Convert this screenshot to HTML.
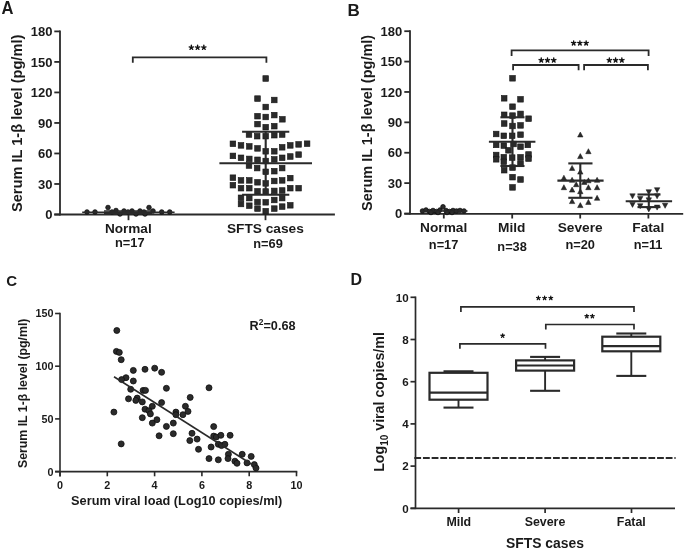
<!DOCTYPE html>
<html><head><meta charset="utf-8"><style>
html,body{margin:0;padding:0;background:#fff;}
svg{display:block;font-family:"Liberation Sans", sans-serif;will-change:transform;}
</style></head><body>
<svg width="685" height="550" viewBox="0 0 685 550">
<rect width="685" height="550" fill="#fff"/>
<text transform="translate(1.6,14.1) scale(0.93,1)" font-size="17.8" font-weight="bold" fill="#1a1a1a">A</text>
<line x1="60.00" y1="30.50" x2="60.00" y2="215.40" stroke="#2a2a2a" stroke-width="1.8" />
<line x1="54.30" y1="214.50" x2="334.90" y2="214.50" stroke="#2a2a2a" stroke-width="1.8" />
<line x1="54.30" y1="214.50" x2="60.00" y2="214.50" stroke="#2a2a2a" stroke-width="1.8" />
<text x="52.40" y="219.10" font-size="13" text-anchor="end" font-weight="bold" fill="#1a1a1a" >0</text>
<line x1="54.30" y1="183.98" x2="60.00" y2="183.98" stroke="#2a2a2a" stroke-width="1.8" />
<text x="52.40" y="188.58" font-size="13" text-anchor="end" font-weight="bold" fill="#1a1a1a" >30</text>
<line x1="54.30" y1="153.47" x2="60.00" y2="153.47" stroke="#2a2a2a" stroke-width="1.8" />
<text x="52.40" y="158.07" font-size="13" text-anchor="end" font-weight="bold" fill="#1a1a1a" >60</text>
<line x1="54.30" y1="122.95" x2="60.00" y2="122.95" stroke="#2a2a2a" stroke-width="1.8" />
<text x="52.40" y="127.55" font-size="13" text-anchor="end" font-weight="bold" fill="#1a1a1a" >90</text>
<line x1="54.30" y1="92.44" x2="60.00" y2="92.44" stroke="#2a2a2a" stroke-width="1.8" />
<text x="52.40" y="97.04" font-size="13" text-anchor="end" font-weight="bold" fill="#1a1a1a" >120</text>
<line x1="54.30" y1="61.92" x2="60.00" y2="61.92" stroke="#2a2a2a" stroke-width="1.8" />
<text x="52.40" y="66.52" font-size="13" text-anchor="end" font-weight="bold" fill="#1a1a1a" >150</text>
<line x1="54.30" y1="31.40" x2="60.00" y2="31.40" stroke="#2a2a2a" stroke-width="1.8" />
<text x="52.40" y="36.00" font-size="13" text-anchor="end" font-weight="bold" fill="#1a1a1a" >180</text>
<text transform="translate(22.40,212.00) rotate(-90)" font-size="14.6" font-weight="bold" fill="#1a1a1a">Serum IL 1-β level (pg/ml)</text>
<line x1="128.50" y1="214.50" x2="128.50" y2="220.20" stroke="#2a2a2a" stroke-width="1.8" />
<line x1="265.50" y1="214.50" x2="265.50" y2="220.20" stroke="#2a2a2a" stroke-width="1.8" />
<text x="128.30" y="233.30" font-size="13.6" text-anchor="middle" font-weight="bold" fill="#1a1a1a" >Normal</text>
<text x="129.80" y="247.30" font-size="12.8" text-anchor="middle" font-weight="bold" fill="#1a1a1a" >n=17</text>
<text x="265.40" y="233.20" font-size="13.7" text-anchor="middle" font-weight="bold" fill="#1a1a1a" >SFTS cases</text>
<text x="268.00" y="247.60" font-size="12.8" text-anchor="middle" font-weight="bold" fill="#1a1a1a" >n=69</text>
<path d="M132.80,62.80 V57.40 H266.40 V62.80" stroke="#2a2a2a" stroke-width="1.8" fill="none"/>
<path d="M191.35,47.55 L191.35,45.30 M191.35,47.55 L193.49,46.85 M191.35,47.55 L192.67,49.37 M191.35,47.55 L190.03,49.37 M191.35,47.55 L189.21,46.85 " stroke="#111" stroke-width="1.4" stroke-linecap="round" fill="none"/>
<path d="M197.60,47.55 L197.60,45.30 M197.60,47.55 L199.74,46.85 M197.60,47.55 L198.92,49.37 M197.60,47.55 L196.28,49.37 M197.60,47.55 L195.46,46.85 " stroke="#111" stroke-width="1.4" stroke-linecap="round" fill="none"/>
<path d="M203.85,47.55 L203.85,45.30 M203.85,47.55 L205.99,46.85 M203.85,47.55 L205.17,49.37 M203.85,47.55 L202.53,49.37 M203.85,47.55 L201.71,46.85 " stroke="#111" stroke-width="1.4" stroke-linecap="round" fill="none"/>
<circle cx="87.00" cy="212.00" r="2.3" fill="#2b2b2b" stroke="#0e0e0e" stroke-width="0.8"/>
<circle cx="95.00" cy="212.00" r="2.3" fill="#2b2b2b" stroke="#0e0e0e" stroke-width="0.8"/>
<circle cx="108.00" cy="207.50" r="2.3" fill="#2b2b2b" stroke="#0e0e0e" stroke-width="0.8"/>
<circle cx="116.00" cy="210.50" r="2.3" fill="#2b2b2b" stroke="#0e0e0e" stroke-width="0.8"/>
<circle cx="120.00" cy="214.00" r="2.3" fill="#2b2b2b" stroke="#0e0e0e" stroke-width="0.8"/>
<circle cx="124.00" cy="211.00" r="2.3" fill="#2b2b2b" stroke="#0e0e0e" stroke-width="0.8"/>
<circle cx="128.00" cy="212.00" r="2.3" fill="#2b2b2b" stroke="#0e0e0e" stroke-width="0.8"/>
<circle cx="132.00" cy="211.00" r="2.3" fill="#2b2b2b" stroke="#0e0e0e" stroke-width="0.8"/>
<circle cx="136.00" cy="214.00" r="2.3" fill="#2b2b2b" stroke="#0e0e0e" stroke-width="0.8"/>
<circle cx="140.00" cy="211.00" r="2.3" fill="#2b2b2b" stroke="#0e0e0e" stroke-width="0.8"/>
<circle cx="144.00" cy="212.00" r="2.3" fill="#2b2b2b" stroke="#0e0e0e" stroke-width="0.8"/>
<circle cx="149.00" cy="207.50" r="2.3" fill="#2b2b2b" stroke="#0e0e0e" stroke-width="0.8"/>
<circle cx="153.00" cy="211.00" r="2.3" fill="#2b2b2b" stroke="#0e0e0e" stroke-width="0.8"/>
<circle cx="161.70" cy="212.00" r="2.3" fill="#2b2b2b" stroke="#0e0e0e" stroke-width="0.8"/>
<circle cx="169.70" cy="212.00" r="2.3" fill="#2b2b2b" stroke="#0e0e0e" stroke-width="0.8"/>
<circle cx="112.00" cy="212.00" r="2.3" fill="#2b2b2b" stroke="#0e0e0e" stroke-width="0.8"/>
<circle cx="145.00" cy="214.00" r="2.3" fill="#2b2b2b" stroke="#0e0e0e" stroke-width="0.8"/>
<line x1="82.20" y1="212.20" x2="174.60" y2="212.20" stroke="#2a2a2a" stroke-width="1.6" />
<line x1="104.00" y1="210.90" x2="152.00" y2="210.90" stroke="#2a2a2a" stroke-width="1.5" />
<line x1="104.00" y1="213.40" x2="152.00" y2="213.40" stroke="#2a2a2a" stroke-width="1.5" />
<rect x="262.90" y="75.70" width="5.6" height="5.6" fill="#2b2b2b" stroke="#151515" stroke-width="0.6"/>
<rect x="254.70" y="95.80" width="5.6" height="5.6" fill="#2b2b2b" stroke="#151515" stroke-width="0.6"/>
<rect x="271.50" y="97.20" width="5.6" height="5.6" fill="#2b2b2b" stroke="#151515" stroke-width="0.6"/>
<rect x="262.90" y="104.20" width="5.6" height="5.6" fill="#2b2b2b" stroke="#151515" stroke-width="0.6"/>
<rect x="254.70" y="113.40" width="5.6" height="5.6" fill="#2b2b2b" stroke="#151515" stroke-width="0.6"/>
<rect x="262.90" y="114.20" width="5.6" height="5.6" fill="#2b2b2b" stroke="#151515" stroke-width="0.6"/>
<rect x="271.50" y="112.30" width="5.6" height="5.6" fill="#2b2b2b" stroke="#151515" stroke-width="0.6"/>
<rect x="279.60" y="116.50" width="5.6" height="5.6" fill="#2b2b2b" stroke="#151515" stroke-width="0.6"/>
<rect x="254.70" y="121.30" width="5.6" height="5.6" fill="#2b2b2b" stroke="#151515" stroke-width="0.6"/>
<rect x="262.90" y="124.40" width="5.6" height="5.6" fill="#2b2b2b" stroke="#151515" stroke-width="0.6"/>
<rect x="271.50" y="123.40" width="5.6" height="5.6" fill="#2b2b2b" stroke="#151515" stroke-width="0.6"/>
<rect x="246.20" y="131.70" width="5.6" height="5.6" fill="#2b2b2b" stroke="#151515" stroke-width="0.6"/>
<rect x="254.40" y="133.40" width="5.6" height="5.6" fill="#2b2b2b" stroke="#151515" stroke-width="0.6"/>
<rect x="262.90" y="133.40" width="5.6" height="5.6" fill="#2b2b2b" stroke="#151515" stroke-width="0.6"/>
<rect x="271.50" y="132.40" width="5.6" height="5.6" fill="#2b2b2b" stroke="#151515" stroke-width="0.6"/>
<rect x="279.40" y="131.70" width="5.6" height="5.6" fill="#2b2b2b" stroke="#151515" stroke-width="0.6"/>
<rect x="230.10" y="141.00" width="5.6" height="5.6" fill="#2b2b2b" stroke="#151515" stroke-width="0.6"/>
<rect x="238.20" y="142.60" width="5.6" height="5.6" fill="#2b2b2b" stroke="#151515" stroke-width="0.6"/>
<rect x="246.50" y="143.60" width="5.6" height="5.6" fill="#2b2b2b" stroke="#151515" stroke-width="0.6"/>
<rect x="254.70" y="145.60" width="5.6" height="5.6" fill="#2b2b2b" stroke="#151515" stroke-width="0.6"/>
<rect x="262.90" y="148.50" width="5.6" height="5.6" fill="#2b2b2b" stroke="#151515" stroke-width="0.6"/>
<rect x="271.50" y="148.50" width="5.6" height="5.6" fill="#2b2b2b" stroke="#151515" stroke-width="0.6"/>
<rect x="279.40" y="144.50" width="5.6" height="5.6" fill="#2b2b2b" stroke="#151515" stroke-width="0.6"/>
<rect x="287.50" y="142.60" width="5.6" height="5.6" fill="#2b2b2b" stroke="#151515" stroke-width="0.6"/>
<rect x="295.80" y="141.60" width="5.6" height="5.6" fill="#2b2b2b" stroke="#151515" stroke-width="0.6"/>
<rect x="304.30" y="140.90" width="5.6" height="5.6" fill="#2b2b2b" stroke="#151515" stroke-width="0.6"/>
<rect x="230.10" y="153.10" width="5.6" height="5.6" fill="#2b2b2b" stroke="#151515" stroke-width="0.6"/>
<rect x="238.20" y="155.00" width="5.6" height="5.6" fill="#2b2b2b" stroke="#151515" stroke-width="0.6"/>
<rect x="246.50" y="156.10" width="5.6" height="5.6" fill="#2b2b2b" stroke="#151515" stroke-width="0.6"/>
<rect x="254.70" y="157.00" width="5.6" height="5.6" fill="#2b2b2b" stroke="#151515" stroke-width="0.6"/>
<rect x="262.90" y="158.20" width="5.6" height="5.6" fill="#2b2b2b" stroke="#151515" stroke-width="0.6"/>
<rect x="271.50" y="156.60" width="5.6" height="5.6" fill="#2b2b2b" stroke="#151515" stroke-width="0.6"/>
<rect x="279.40" y="155.00" width="5.6" height="5.6" fill="#2b2b2b" stroke="#151515" stroke-width="0.6"/>
<rect x="287.50" y="153.70" width="5.6" height="5.6" fill="#2b2b2b" stroke="#151515" stroke-width="0.6"/>
<rect x="295.80" y="151.80" width="5.6" height="5.6" fill="#2b2b2b" stroke="#151515" stroke-width="0.6"/>
<rect x="246.20" y="162.70" width="5.6" height="5.6" fill="#2b2b2b" stroke="#151515" stroke-width="0.6"/>
<rect x="254.40" y="165.30" width="5.6" height="5.6" fill="#2b2b2b" stroke="#151515" stroke-width="0.6"/>
<rect x="262.90" y="169.00" width="5.6" height="5.6" fill="#2b2b2b" stroke="#151515" stroke-width="0.6"/>
<rect x="271.50" y="168.40" width="5.6" height="5.6" fill="#2b2b2b" stroke="#151515" stroke-width="0.6"/>
<rect x="279.40" y="165.30" width="5.6" height="5.6" fill="#2b2b2b" stroke="#151515" stroke-width="0.6"/>
<rect x="230.10" y="174.90" width="5.6" height="5.6" fill="#2b2b2b" stroke="#151515" stroke-width="0.6"/>
<rect x="238.20" y="177.60" width="5.6" height="5.6" fill="#2b2b2b" stroke="#151515" stroke-width="0.6"/>
<rect x="246.50" y="177.60" width="5.6" height="5.6" fill="#2b2b2b" stroke="#151515" stroke-width="0.6"/>
<rect x="254.70" y="179.50" width="5.6" height="5.6" fill="#2b2b2b" stroke="#151515" stroke-width="0.6"/>
<rect x="262.90" y="180.60" width="5.6" height="5.6" fill="#2b2b2b" stroke="#151515" stroke-width="0.6"/>
<rect x="271.50" y="178.20" width="5.6" height="5.6" fill="#2b2b2b" stroke="#151515" stroke-width="0.6"/>
<rect x="279.40" y="177.60" width="5.6" height="5.6" fill="#2b2b2b" stroke="#151515" stroke-width="0.6"/>
<rect x="287.50" y="175.30" width="5.6" height="5.6" fill="#2b2b2b" stroke="#151515" stroke-width="0.6"/>
<rect x="230.10" y="182.40" width="5.6" height="5.6" fill="#2b2b2b" stroke="#151515" stroke-width="0.6"/>
<rect x="238.20" y="185.40" width="5.6" height="5.6" fill="#2b2b2b" stroke="#151515" stroke-width="0.6"/>
<rect x="246.50" y="185.40" width="5.6" height="5.6" fill="#2b2b2b" stroke="#151515" stroke-width="0.6"/>
<rect x="254.70" y="188.50" width="5.6" height="5.6" fill="#2b2b2b" stroke="#151515" stroke-width="0.6"/>
<rect x="262.90" y="188.70" width="5.6" height="5.6" fill="#2b2b2b" stroke="#151515" stroke-width="0.6"/>
<rect x="271.50" y="188.10" width="5.6" height="5.6" fill="#2b2b2b" stroke="#151515" stroke-width="0.6"/>
<rect x="279.40" y="187.70" width="5.6" height="5.6" fill="#2b2b2b" stroke="#151515" stroke-width="0.6"/>
<rect x="287.50" y="185.40" width="5.6" height="5.6" fill="#2b2b2b" stroke="#151515" stroke-width="0.6"/>
<rect x="295.80" y="185.40" width="5.6" height="5.6" fill="#2b2b2b" stroke="#151515" stroke-width="0.6"/>
<rect x="238.20" y="195.00" width="5.6" height="5.6" fill="#2b2b2b" stroke="#151515" stroke-width="0.6"/>
<rect x="238.20" y="201.20" width="5.6" height="5.6" fill="#2b2b2b" stroke="#151515" stroke-width="0.6"/>
<rect x="246.50" y="195.30" width="5.6" height="5.6" fill="#2b2b2b" stroke="#151515" stroke-width="0.6"/>
<rect x="246.50" y="202.90" width="5.6" height="5.6" fill="#2b2b2b" stroke="#151515" stroke-width="0.6"/>
<rect x="254.70" y="199.20" width="5.6" height="5.6" fill="#2b2b2b" stroke="#151515" stroke-width="0.6"/>
<rect x="254.70" y="205.80" width="5.6" height="5.6" fill="#2b2b2b" stroke="#151515" stroke-width="0.6"/>
<rect x="262.90" y="199.50" width="5.6" height="5.6" fill="#2b2b2b" stroke="#151515" stroke-width="0.6"/>
<rect x="262.90" y="208.40" width="5.6" height="5.6" fill="#2b2b2b" stroke="#151515" stroke-width="0.6"/>
<rect x="271.50" y="197.20" width="5.6" height="5.6" fill="#2b2b2b" stroke="#151515" stroke-width="0.6"/>
<rect x="271.50" y="205.80" width="5.6" height="5.6" fill="#2b2b2b" stroke="#151515" stroke-width="0.6"/>
<rect x="279.40" y="195.30" width="5.6" height="5.6" fill="#2b2b2b" stroke="#151515" stroke-width="0.6"/>
<rect x="279.40" y="203.80" width="5.6" height="5.6" fill="#2b2b2b" stroke="#151515" stroke-width="0.6"/>
<rect x="287.50" y="202.50" width="5.6" height="5.6" fill="#2b2b2b" stroke="#151515" stroke-width="0.6"/>
<line x1="219.40" y1="163.20" x2="312.00" y2="163.20" stroke="#2a2a2a" stroke-width="2.1" />
<line x1="242.10" y1="131.70" x2="289.30" y2="131.70" stroke="#2a2a2a" stroke-width="2.1" />
<line x1="242.10" y1="194.80" x2="289.30" y2="194.80" stroke="#2a2a2a" stroke-width="2.1" />
<line x1="265.70" y1="131.70" x2="265.70" y2="194.80" stroke="#2a2a2a" stroke-width="2.1" />
<text x="347.40" y="15.60" font-size="17" text-anchor="start" font-weight="bold" fill="#1a1a1a" >B</text>
<line x1="410.00" y1="30.30" x2="410.00" y2="214.40" stroke="#2a2a2a" stroke-width="1.8" />
<line x1="404.30" y1="213.80" x2="683.20" y2="213.80" stroke="#2a2a2a" stroke-width="1.8" />
<line x1="404.30" y1="213.50" x2="410.00" y2="213.50" stroke="#2a2a2a" stroke-width="1.8" />
<text x="402.30" y="218.10" font-size="13" text-anchor="end" font-weight="bold" fill="#1a1a1a" >0</text>
<line x1="404.30" y1="183.12" x2="410.00" y2="183.12" stroke="#2a2a2a" stroke-width="1.8" />
<text x="402.30" y="187.72" font-size="13" text-anchor="end" font-weight="bold" fill="#1a1a1a" >30</text>
<line x1="404.30" y1="152.73" x2="410.00" y2="152.73" stroke="#2a2a2a" stroke-width="1.8" />
<text x="402.30" y="157.33" font-size="13" text-anchor="end" font-weight="bold" fill="#1a1a1a" >60</text>
<line x1="404.30" y1="122.35" x2="410.00" y2="122.35" stroke="#2a2a2a" stroke-width="1.8" />
<text x="402.30" y="126.95" font-size="13" text-anchor="end" font-weight="bold" fill="#1a1a1a" >90</text>
<line x1="404.30" y1="91.96" x2="410.00" y2="91.96" stroke="#2a2a2a" stroke-width="1.8" />
<text x="402.30" y="96.56" font-size="13" text-anchor="end" font-weight="bold" fill="#1a1a1a" >120</text>
<line x1="404.30" y1="61.58" x2="410.00" y2="61.58" stroke="#2a2a2a" stroke-width="1.8" />
<text x="402.30" y="66.18" font-size="13" text-anchor="end" font-weight="bold" fill="#1a1a1a" >150</text>
<line x1="404.30" y1="31.20" x2="410.00" y2="31.20" stroke="#2a2a2a" stroke-width="1.8" />
<text x="402.30" y="35.80" font-size="13" text-anchor="end" font-weight="bold" fill="#1a1a1a" >180</text>
<text transform="translate(372.40,211.00) rotate(-90)" font-size="14.5" font-weight="bold" fill="#1a1a1a">Serum IL 1-β level (pg/ml)</text>
<line x1="443.80" y1="213.80" x2="443.80" y2="218.50" stroke="#2a2a2a" stroke-width="1.8" />
<line x1="512.20" y1="213.80" x2="512.20" y2="218.50" stroke="#2a2a2a" stroke-width="1.8" />
<line x1="580.20" y1="213.80" x2="580.20" y2="218.50" stroke="#2a2a2a" stroke-width="1.8" />
<line x1="648.40" y1="213.80" x2="648.40" y2="218.50" stroke="#2a2a2a" stroke-width="1.8" />
<text x="443.70" y="232.20" font-size="13.7" text-anchor="middle" font-weight="bold" fill="#1a1a1a" >Normal</text>
<text x="511.70" y="232.20" font-size="13.7" text-anchor="middle" font-weight="bold" fill="#1a1a1a" >Mild</text>
<text x="580.20" y="232.20" font-size="13.7" text-anchor="middle" font-weight="bold" fill="#1a1a1a" >Severe</text>
<text x="648.30" y="232.20" font-size="13.7" text-anchor="middle" font-weight="bold" fill="#1a1a1a" >Fatal</text>
<text x="443.60" y="249.00" font-size="12.8" text-anchor="middle" font-weight="bold" fill="#1a1a1a" >n=17</text>
<text x="512.10" y="250.50" font-size="12.8" text-anchor="middle" font-weight="bold" fill="#1a1a1a" >n=38</text>
<text x="580.20" y="249.00" font-size="12.8" text-anchor="middle" font-weight="bold" fill="#1a1a1a" >n=20</text>
<text x="648.10" y="249.00" font-size="12.8" text-anchor="middle" font-weight="bold" fill="#1a1a1a" >n=11</text>
<path d="M511.60,55.90 V50.40 H648.60 V55.90" stroke="#2a2a2a" stroke-width="1.8" fill="none"/>
<path d="M513.10,70.20 V65.00 H578.60 V70.20" stroke="#2a2a2a" stroke-width="1.8" fill="none"/>
<path d="M584.10,70.20 V65.00 H647.90 V70.20" stroke="#2a2a2a" stroke-width="1.8" fill="none"/>
<path d="M573.65,43.15 L573.65,40.90 M573.65,43.15 L575.79,42.45 M573.65,43.15 L574.97,44.97 M573.65,43.15 L572.33,44.97 M573.65,43.15 L571.51,42.45 " stroke="#111" stroke-width="1.4" stroke-linecap="round" fill="none"/>
<path d="M579.90,43.15 L579.90,40.90 M579.90,43.15 L582.04,42.45 M579.90,43.15 L581.22,44.97 M579.90,43.15 L578.58,44.97 M579.90,43.15 L577.76,42.45 " stroke="#111" stroke-width="1.4" stroke-linecap="round" fill="none"/>
<path d="M586.15,43.15 L586.15,40.90 M586.15,43.15 L588.29,42.45 M586.15,43.15 L587.47,44.97 M586.15,43.15 L584.83,44.97 M586.15,43.15 L584.01,42.45 " stroke="#111" stroke-width="1.4" stroke-linecap="round" fill="none"/>
<path d="M541.25,60.25 L541.25,58.00 M541.25,60.25 L543.39,59.55 M541.25,60.25 L542.57,62.07 M541.25,60.25 L539.93,62.07 M541.25,60.25 L539.11,59.55 " stroke="#111" stroke-width="1.4" stroke-linecap="round" fill="none"/>
<path d="M547.50,60.25 L547.50,58.00 M547.50,60.25 L549.64,59.55 M547.50,60.25 L548.82,62.07 M547.50,60.25 L546.18,62.07 M547.50,60.25 L545.36,59.55 " stroke="#111" stroke-width="1.4" stroke-linecap="round" fill="none"/>
<path d="M553.75,60.25 L553.75,58.00 M553.75,60.25 L555.89,59.55 M553.75,60.25 L555.07,62.07 M553.75,60.25 L552.43,62.07 M553.75,60.25 L551.61,59.55 " stroke="#111" stroke-width="1.4" stroke-linecap="round" fill="none"/>
<path d="M609.35,60.25 L609.35,58.00 M609.35,60.25 L611.49,59.55 M609.35,60.25 L610.67,62.07 M609.35,60.25 L608.03,62.07 M609.35,60.25 L607.21,59.55 " stroke="#111" stroke-width="1.4" stroke-linecap="round" fill="none"/>
<path d="M615.60,60.25 L615.60,58.00 M615.60,60.25 L617.74,59.55 M615.60,60.25 L616.92,62.07 M615.60,60.25 L614.28,62.07 M615.60,60.25 L613.46,59.55 " stroke="#111" stroke-width="1.4" stroke-linecap="round" fill="none"/>
<path d="M621.85,60.25 L621.85,58.00 M621.85,60.25 L623.99,59.55 M621.85,60.25 L623.17,62.07 M621.85,60.25 L620.53,62.07 M621.85,60.25 L619.71,59.55 " stroke="#111" stroke-width="1.4" stroke-linecap="round" fill="none"/>
<circle cx="422.50" cy="211.00" r="2.3" fill="#2b2b2b" stroke="#0e0e0e" stroke-width="0.8"/>
<circle cx="426.00" cy="210.00" r="2.3" fill="#2b2b2b" stroke="#0e0e0e" stroke-width="0.8"/>
<circle cx="429.50" cy="211.50" r="2.3" fill="#2b2b2b" stroke="#0e0e0e" stroke-width="0.8"/>
<circle cx="433.00" cy="210.50" r="2.3" fill="#2b2b2b" stroke="#0e0e0e" stroke-width="0.8"/>
<circle cx="436.50" cy="211.50" r="2.3" fill="#2b2b2b" stroke="#0e0e0e" stroke-width="0.8"/>
<circle cx="440.00" cy="210.00" r="2.3" fill="#2b2b2b" stroke="#0e0e0e" stroke-width="0.8"/>
<circle cx="443.00" cy="206.80" r="2.3" fill="#2b2b2b" stroke="#0e0e0e" stroke-width="0.8"/>
<circle cx="446.00" cy="210.50" r="2.3" fill="#2b2b2b" stroke="#0e0e0e" stroke-width="0.8"/>
<circle cx="449.50" cy="211.50" r="2.3" fill="#2b2b2b" stroke="#0e0e0e" stroke-width="0.8"/>
<circle cx="453.00" cy="210.50" r="2.3" fill="#2b2b2b" stroke="#0e0e0e" stroke-width="0.8"/>
<circle cx="456.50" cy="211.00" r="2.3" fill="#2b2b2b" stroke="#0e0e0e" stroke-width="0.8"/>
<circle cx="460.00" cy="210.50" r="2.3" fill="#2b2b2b" stroke="#0e0e0e" stroke-width="0.8"/>
<circle cx="464.00" cy="211.00" r="2.3" fill="#2b2b2b" stroke="#0e0e0e" stroke-width="0.8"/>
<circle cx="431.00" cy="212.50" r="2.3" fill="#2b2b2b" stroke="#0e0e0e" stroke-width="0.8"/>
<circle cx="438.00" cy="212.50" r="2.3" fill="#2b2b2b" stroke="#0e0e0e" stroke-width="0.8"/>
<circle cx="447.00" cy="212.50" r="2.3" fill="#2b2b2b" stroke="#0e0e0e" stroke-width="0.8"/>
<circle cx="452.00" cy="212.50" r="2.3" fill="#2b2b2b" stroke="#0e0e0e" stroke-width="0.8"/>
<line x1="420.00" y1="211.00" x2="467.50" y2="211.00" stroke="#2a2a2a" stroke-width="1.6" />
<rect x="509.70" y="75.50" width="5.6" height="5.6" fill="#2b2b2b" stroke="#151515" stroke-width="0.6"/>
<rect x="501.40" y="95.50" width="5.6" height="5.6" fill="#2b2b2b" stroke="#151515" stroke-width="0.6"/>
<rect x="517.70" y="96.50" width="5.6" height="5.6" fill="#2b2b2b" stroke="#151515" stroke-width="0.6"/>
<rect x="509.70" y="103.90" width="5.6" height="5.6" fill="#2b2b2b" stroke="#151515" stroke-width="0.6"/>
<rect x="501.40" y="112.00" width="5.6" height="5.6" fill="#2b2b2b" stroke="#151515" stroke-width="0.6"/>
<rect x="509.70" y="112.80" width="5.6" height="5.6" fill="#2b2b2b" stroke="#151515" stroke-width="0.6"/>
<rect x="517.70" y="111.10" width="5.6" height="5.6" fill="#2b2b2b" stroke="#151515" stroke-width="0.6"/>
<rect x="525.80" y="115.90" width="5.6" height="5.6" fill="#2b2b2b" stroke="#151515" stroke-width="0.6"/>
<rect x="501.40" y="120.70" width="5.6" height="5.6" fill="#2b2b2b" stroke="#151515" stroke-width="0.6"/>
<rect x="509.70" y="123.20" width="5.6" height="5.6" fill="#2b2b2b" stroke="#151515" stroke-width="0.6"/>
<rect x="517.70" y="122.60" width="5.6" height="5.6" fill="#2b2b2b" stroke="#151515" stroke-width="0.6"/>
<rect x="493.40" y="131.20" width="5.6" height="5.6" fill="#2b2b2b" stroke="#151515" stroke-width="0.6"/>
<rect x="501.00" y="133.00" width="5.6" height="5.6" fill="#2b2b2b" stroke="#151515" stroke-width="0.6"/>
<rect x="509.40" y="133.00" width="5.6" height="5.6" fill="#2b2b2b" stroke="#151515" stroke-width="0.6"/>
<rect x="517.70" y="131.90" width="5.6" height="5.6" fill="#2b2b2b" stroke="#151515" stroke-width="0.6"/>
<rect x="493.40" y="142.10" width="5.6" height="5.6" fill="#2b2b2b" stroke="#151515" stroke-width="0.6"/>
<rect x="501.00" y="142.80" width="5.6" height="5.6" fill="#2b2b2b" stroke="#151515" stroke-width="0.6"/>
<rect x="517.70" y="143.90" width="5.6" height="5.6" fill="#2b2b2b" stroke="#151515" stroke-width="0.6"/>
<rect x="525.00" y="142.10" width="5.6" height="5.6" fill="#2b2b2b" stroke="#151515" stroke-width="0.6"/>
<rect x="505.70" y="147.50" width="5.6" height="5.6" fill="#2b2b2b" stroke="#151515" stroke-width="0.6"/>
<rect x="510.70" y="141.20" width="5.6" height="5.6" fill="#2b2b2b" stroke="#151515" stroke-width="0.6"/>
<rect x="493.40" y="152.20" width="5.6" height="5.6" fill="#2b2b2b" stroke="#151515" stroke-width="0.6"/>
<rect x="493.40" y="156.50" width="5.6" height="5.6" fill="#2b2b2b" stroke="#151515" stroke-width="0.6"/>
<rect x="501.00" y="154.40" width="5.6" height="5.6" fill="#2b2b2b" stroke="#151515" stroke-width="0.6"/>
<rect x="501.00" y="159.00" width="5.6" height="5.6" fill="#2b2b2b" stroke="#151515" stroke-width="0.6"/>
<rect x="509.40" y="154.80" width="5.6" height="5.6" fill="#2b2b2b" stroke="#151515" stroke-width="0.6"/>
<rect x="517.70" y="154.50" width="5.6" height="5.6" fill="#2b2b2b" stroke="#151515" stroke-width="0.6"/>
<rect x="517.70" y="160.70" width="5.6" height="5.6" fill="#2b2b2b" stroke="#151515" stroke-width="0.6"/>
<rect x="525.70" y="151.70" width="5.6" height="5.6" fill="#2b2b2b" stroke="#151515" stroke-width="0.6"/>
<rect x="525.70" y="155.80" width="5.6" height="5.6" fill="#2b2b2b" stroke="#151515" stroke-width="0.6"/>
<rect x="501.40" y="167.40" width="5.6" height="5.6" fill="#2b2b2b" stroke="#151515" stroke-width="0.6"/>
<rect x="509.70" y="164.80" width="5.6" height="5.6" fill="#2b2b2b" stroke="#151515" stroke-width="0.6"/>
<rect x="509.70" y="174.40" width="5.6" height="5.6" fill="#2b2b2b" stroke="#151515" stroke-width="0.6"/>
<rect x="517.70" y="176.70" width="5.6" height="5.6" fill="#2b2b2b" stroke="#151515" stroke-width="0.6"/>
<rect x="509.70" y="184.60" width="5.6" height="5.6" fill="#2b2b2b" stroke="#151515" stroke-width="0.6"/>
<line x1="488.90" y1="141.80" x2="535.40" y2="141.80" stroke="#2a2a2a" stroke-width="2.1" />
<line x1="500.40" y1="117.30" x2="524.50" y2="117.30" stroke="#2a2a2a" stroke-width="2.1" />
<line x1="500.40" y1="166.00" x2="524.50" y2="166.00" stroke="#2a2a2a" stroke-width="2.1" />
<line x1="512.50" y1="117.30" x2="512.50" y2="166.00" stroke="#2a2a2a" stroke-width="2.1" />
<path d="M577.60,137.00 L580.30,132.00 L583.00,137.00 Z" fill="#2b2b2b" stroke="#151515" stroke-width="0.5"/>
<path d="M585.70,153.70 L588.40,148.70 L591.10,153.70 Z" fill="#2b2b2b" stroke="#151515" stroke-width="0.5"/>
<path d="M577.60,158.60 L580.30,153.60 L583.00,158.60 Z" fill="#2b2b2b" stroke="#151515" stroke-width="0.5"/>
<path d="M569.40,170.40 L572.10,165.40 L574.80,170.40 Z" fill="#2b2b2b" stroke="#151515" stroke-width="0.5"/>
<path d="M577.60,174.10 L580.30,169.10 L583.00,174.10 Z" fill="#2b2b2b" stroke="#151515" stroke-width="0.5"/>
<path d="M561.20,180.20 L563.90,175.20 L566.60,180.20 Z" fill="#2b2b2b" stroke="#151515" stroke-width="0.5"/>
<path d="M569.40,182.30 L572.10,177.30 L574.80,182.30 Z" fill="#2b2b2b" stroke="#151515" stroke-width="0.5"/>
<path d="M585.70,182.80 L588.40,177.80 L591.10,182.80 Z" fill="#2b2b2b" stroke="#151515" stroke-width="0.5"/>
<path d="M594.40,182.30 L597.10,177.30 L599.80,182.30 Z" fill="#2b2b2b" stroke="#151515" stroke-width="0.5"/>
<path d="M573.50,186.70 L576.20,181.70 L578.90,186.70 Z" fill="#2b2b2b" stroke="#151515" stroke-width="0.5"/>
<path d="M581.60,184.40 L584.30,179.40 L587.00,184.40 Z" fill="#2b2b2b" stroke="#151515" stroke-width="0.5"/>
<path d="M561.20,189.70 L563.90,184.70 L566.60,189.70 Z" fill="#2b2b2b" stroke="#151515" stroke-width="0.5"/>
<path d="M569.40,192.10 L572.10,187.10 L574.80,192.10 Z" fill="#2b2b2b" stroke="#151515" stroke-width="0.5"/>
<path d="M577.60,193.70 L580.30,188.70 L583.00,193.70 Z" fill="#2b2b2b" stroke="#151515" stroke-width="0.5"/>
<path d="M585.70,189.70 L588.40,184.70 L591.10,189.70 Z" fill="#2b2b2b" stroke="#151515" stroke-width="0.5"/>
<path d="M594.40,189.70 L597.10,184.70 L599.80,189.70 Z" fill="#2b2b2b" stroke="#151515" stroke-width="0.5"/>
<path d="M594.40,200.30 L597.10,195.30 L599.80,200.30 Z" fill="#2b2b2b" stroke="#151515" stroke-width="0.5"/>
<path d="M569.40,203.60 L572.10,198.60 L574.80,203.60 Z" fill="#2b2b2b" stroke="#151515" stroke-width="0.5"/>
<path d="M577.60,207.60 L580.30,202.60 L583.00,207.60 Z" fill="#2b2b2b" stroke="#151515" stroke-width="0.5"/>
<path d="M585.70,204.40 L588.40,199.40 L591.10,204.40 Z" fill="#2b2b2b" stroke="#151515" stroke-width="0.5"/>
<line x1="557.40" y1="180.60" x2="603.60" y2="180.60" stroke="#2a2a2a" stroke-width="2.1" />
<line x1="568.30" y1="163.40" x2="592.50" y2="163.40" stroke="#2a2a2a" stroke-width="2.1" />
<line x1="568.30" y1="197.80" x2="592.50" y2="197.80" stroke="#2a2a2a" stroke-width="2.1" />
<line x1="580.30" y1="163.40" x2="580.30" y2="197.80" stroke="#2a2a2a" stroke-width="2.1" />
<path d="M629.80,193.80 L632.50,198.80 L635.20,193.80 Z" fill="#2b2b2b" stroke="#151515" stroke-width="0.5"/>
<path d="M629.80,202.40 L632.50,207.40 L635.20,202.40 Z" fill="#2b2b2b" stroke="#151515" stroke-width="0.5"/>
<path d="M637.50,196.50 L640.20,201.50 L642.90,196.50 Z" fill="#2b2b2b" stroke="#151515" stroke-width="0.5"/>
<path d="M637.50,203.70 L640.20,208.70 L642.90,203.70 Z" fill="#2b2b2b" stroke="#151515" stroke-width="0.5"/>
<path d="M646.10,189.70 L648.80,194.70 L651.50,189.70 Z" fill="#2b2b2b" stroke="#151515" stroke-width="0.5"/>
<path d="M646.10,197.80 L648.80,202.80 L651.50,197.80 Z" fill="#2b2b2b" stroke="#151515" stroke-width="0.5"/>
<path d="M646.10,206.90 L648.80,211.90 L651.50,206.90 Z" fill="#2b2b2b" stroke="#151515" stroke-width="0.5"/>
<path d="M654.40,187.70 L657.10,192.70 L659.80,187.70 Z" fill="#2b2b2b" stroke="#151515" stroke-width="0.5"/>
<path d="M654.40,193.80 L657.10,198.80 L659.80,193.80 Z" fill="#2b2b2b" stroke="#151515" stroke-width="0.5"/>
<path d="M654.40,205.10 L657.10,210.10 L659.80,205.10 Z" fill="#2b2b2b" stroke="#151515" stroke-width="0.5"/>
<path d="M662.40,203.30 L665.10,208.30 L667.80,203.30 Z" fill="#2b2b2b" stroke="#151515" stroke-width="0.5"/>
<line x1="625.70" y1="201.20" x2="672.10" y2="201.20" stroke="#2a2a2a" stroke-width="2.1" />
<line x1="637.50" y1="194.50" x2="660.50" y2="194.50" stroke="#2a2a2a" stroke-width="2.1" />
<line x1="637.50" y1="207.10" x2="660.50" y2="207.10" stroke="#2a2a2a" stroke-width="2.1" />
<line x1="648.80" y1="194.50" x2="648.80" y2="207.10" stroke="#2a2a2a" stroke-width="2.1" />
<text x="6.20" y="285.80" font-size="15" text-anchor="start" font-weight="bold" fill="#1a1a1a" >C</text>
<line x1="60.00" y1="312.70" x2="60.00" y2="476.40" stroke="#2a2a2a" stroke-width="1.6" />
<line x1="55.10" y1="471.60" x2="297.30" y2="471.60" stroke="#2a2a2a" stroke-width="1.6" />
<line x1="55.10" y1="471.60" x2="60.00" y2="471.60" stroke="#2a2a2a" stroke-width="1.6" />
<text x="53.60" y="475.50" font-size="10.8" text-anchor="end" font-weight="bold" fill="#1a1a1a" >0</text>
<line x1="55.10" y1="418.90" x2="60.00" y2="418.90" stroke="#2a2a2a" stroke-width="1.6" />
<text x="53.60" y="422.80" font-size="10.8" text-anchor="end" font-weight="bold" fill="#1a1a1a" >50</text>
<line x1="55.10" y1="366.20" x2="60.00" y2="366.20" stroke="#2a2a2a" stroke-width="1.6" />
<text x="53.60" y="370.10" font-size="10.8" text-anchor="end" font-weight="bold" fill="#1a1a1a" >100</text>
<line x1="55.10" y1="313.50" x2="60.00" y2="313.50" stroke="#2a2a2a" stroke-width="1.6" />
<text x="53.60" y="317.40" font-size="10.8" text-anchor="end" font-weight="bold" fill="#1a1a1a" >150</text>
<line x1="60.00" y1="471.60" x2="60.00" y2="476.30" stroke="#2a2a2a" stroke-width="1.6" />
<text x="60.00" y="488.60" font-size="10.8" text-anchor="middle" font-weight="bold" fill="#1a1a1a" >0</text>
<line x1="107.30" y1="471.60" x2="107.30" y2="476.30" stroke="#2a2a2a" stroke-width="1.6" />
<text x="107.30" y="488.60" font-size="10.8" text-anchor="middle" font-weight="bold" fill="#1a1a1a" >2</text>
<line x1="154.60" y1="471.60" x2="154.60" y2="476.30" stroke="#2a2a2a" stroke-width="1.6" />
<text x="154.60" y="488.60" font-size="10.8" text-anchor="middle" font-weight="bold" fill="#1a1a1a" >4</text>
<line x1="201.90" y1="471.60" x2="201.90" y2="476.30" stroke="#2a2a2a" stroke-width="1.6" />
<text x="201.90" y="488.60" font-size="10.8" text-anchor="middle" font-weight="bold" fill="#1a1a1a" >6</text>
<line x1="249.20" y1="471.60" x2="249.20" y2="476.30" stroke="#2a2a2a" stroke-width="1.6" />
<text x="249.20" y="488.60" font-size="10.8" text-anchor="middle" font-weight="bold" fill="#1a1a1a" >8</text>
<line x1="296.50" y1="471.60" x2="296.50" y2="476.30" stroke="#2a2a2a" stroke-width="1.6" />
<text x="296.50" y="488.60" font-size="10.8" text-anchor="middle" font-weight="bold" fill="#1a1a1a" >10</text>
<text transform="translate(27.00,468.00) rotate(-90)" font-size="12.3" font-weight="bold" fill="#1a1a1a">Serum IL 1-β level (pg/ml)</text>
<text x="176.70" y="505.10" font-size="12.75" text-anchor="middle" font-weight="bold" fill="#1a1a1a" >Serum viral load (Log10 copies/ml)</text>
<text x="249.6" y="329.7" font-size="12.7" font-weight="bold" fill="#1a1a1a">R<tspan font-size="8.4" dy="-4.6">2</tspan><tspan dy="4.6">=0.68</tspan></text>
<circle cx="116.80" cy="330.50" r="3.0" fill="#2b2b2b" stroke="#0e0e0e" stroke-width="0.8"/>
<circle cx="116.40" cy="351.40" r="3.0" fill="#2b2b2b" stroke="#0e0e0e" stroke-width="0.8"/>
<circle cx="119.30" cy="352.40" r="3.0" fill="#2b2b2b" stroke="#0e0e0e" stroke-width="0.8"/>
<circle cx="121.20" cy="359.70" r="3.0" fill="#2b2b2b" stroke="#0e0e0e" stroke-width="0.8"/>
<circle cx="133.30" cy="370.40" r="3.0" fill="#2b2b2b" stroke="#0e0e0e" stroke-width="0.8"/>
<circle cx="145.00" cy="369.30" r="3.0" fill="#2b2b2b" stroke="#0e0e0e" stroke-width="0.8"/>
<circle cx="154.70" cy="368.20" r="3.0" fill="#2b2b2b" stroke="#0e0e0e" stroke-width="0.8"/>
<circle cx="161.60" cy="372.30" r="3.0" fill="#2b2b2b" stroke="#0e0e0e" stroke-width="0.8"/>
<circle cx="126.00" cy="377.70" r="3.0" fill="#2b2b2b" stroke="#0e0e0e" stroke-width="0.8"/>
<circle cx="121.60" cy="379.60" r="3.0" fill="#2b2b2b" stroke="#0e0e0e" stroke-width="0.8"/>
<circle cx="133.30" cy="381.00" r="3.0" fill="#2b2b2b" stroke="#0e0e0e" stroke-width="0.8"/>
<circle cx="166.40" cy="388.30" r="3.0" fill="#2b2b2b" stroke="#0e0e0e" stroke-width="0.8"/>
<circle cx="130.70" cy="389.30" r="3.0" fill="#2b2b2b" stroke="#0e0e0e" stroke-width="0.8"/>
<circle cx="143.10" cy="390.40" r="3.0" fill="#2b2b2b" stroke="#0e0e0e" stroke-width="0.8"/>
<circle cx="145.50" cy="390.40" r="3.0" fill="#2b2b2b" stroke="#0e0e0e" stroke-width="0.8"/>
<circle cx="190.20" cy="397.40" r="3.0" fill="#2b2b2b" stroke="#0e0e0e" stroke-width="0.8"/>
<circle cx="128.50" cy="398.80" r="3.0" fill="#2b2b2b" stroke="#0e0e0e" stroke-width="0.8"/>
<circle cx="137.20" cy="398.10" r="3.0" fill="#2b2b2b" stroke="#0e0e0e" stroke-width="0.8"/>
<circle cx="135.80" cy="400.40" r="3.0" fill="#2b2b2b" stroke="#0e0e0e" stroke-width="0.8"/>
<circle cx="142.30" cy="401.90" r="3.0" fill="#2b2b2b" stroke="#0e0e0e" stroke-width="0.8"/>
<circle cx="161.60" cy="402.60" r="3.0" fill="#2b2b2b" stroke="#0e0e0e" stroke-width="0.8"/>
<circle cx="152.30" cy="406.30" r="3.0" fill="#2b2b2b" stroke="#0e0e0e" stroke-width="0.8"/>
<circle cx="185.40" cy="406.30" r="3.0" fill="#2b2b2b" stroke="#0e0e0e" stroke-width="0.8"/>
<circle cx="145.00" cy="409.20" r="3.0" fill="#2b2b2b" stroke="#0e0e0e" stroke-width="0.8"/>
<circle cx="148.90" cy="410.70" r="3.0" fill="#2b2b2b" stroke="#0e0e0e" stroke-width="0.8"/>
<circle cx="150.40" cy="413.90" r="3.0" fill="#2b2b2b" stroke="#0e0e0e" stroke-width="0.8"/>
<circle cx="175.90" cy="412.10" r="3.0" fill="#2b2b2b" stroke="#0e0e0e" stroke-width="0.8"/>
<circle cx="175.90" cy="414.70" r="3.0" fill="#2b2b2b" stroke="#0e0e0e" stroke-width="0.8"/>
<circle cx="182.90" cy="414.70" r="3.0" fill="#2b2b2b" stroke="#0e0e0e" stroke-width="0.8"/>
<circle cx="188.00" cy="411.40" r="3.0" fill="#2b2b2b" stroke="#0e0e0e" stroke-width="0.8"/>
<circle cx="113.90" cy="412.10" r="3.0" fill="#2b2b2b" stroke="#0e0e0e" stroke-width="0.8"/>
<circle cx="142.30" cy="417.70" r="3.0" fill="#2b2b2b" stroke="#0e0e0e" stroke-width="0.8"/>
<circle cx="156.90" cy="419.70" r="3.0" fill="#2b2b2b" stroke="#0e0e0e" stroke-width="0.8"/>
<circle cx="152.30" cy="423.10" r="3.0" fill="#2b2b2b" stroke="#0e0e0e" stroke-width="0.8"/>
<circle cx="173.30" cy="423.10" r="3.0" fill="#2b2b2b" stroke="#0e0e0e" stroke-width="0.8"/>
<circle cx="166.40" cy="426.40" r="3.0" fill="#2b2b2b" stroke="#0e0e0e" stroke-width="0.8"/>
<circle cx="173.30" cy="433.70" r="3.0" fill="#2b2b2b" stroke="#0e0e0e" stroke-width="0.8"/>
<circle cx="159.10" cy="435.80" r="3.0" fill="#2b2b2b" stroke="#0e0e0e" stroke-width="0.8"/>
<circle cx="192.00" cy="433.30" r="3.0" fill="#2b2b2b" stroke="#0e0e0e" stroke-width="0.8"/>
<circle cx="197.10" cy="439.10" r="3.0" fill="#2b2b2b" stroke="#0e0e0e" stroke-width="0.8"/>
<circle cx="189.80" cy="440.60" r="3.0" fill="#2b2b2b" stroke="#0e0e0e" stroke-width="0.8"/>
<circle cx="121.20" cy="443.90" r="3.0" fill="#2b2b2b" stroke="#0e0e0e" stroke-width="0.8"/>
<circle cx="198.50" cy="449.30" r="3.0" fill="#2b2b2b" stroke="#0e0e0e" stroke-width="0.8"/>
<circle cx="209.00" cy="387.80" r="3.0" fill="#2b2b2b" stroke="#0e0e0e" stroke-width="0.8"/>
<circle cx="213.70" cy="426.60" r="3.0" fill="#2b2b2b" stroke="#0e0e0e" stroke-width="0.8"/>
<circle cx="213.70" cy="436.10" r="3.0" fill="#2b2b2b" stroke="#0e0e0e" stroke-width="0.8"/>
<circle cx="216.30" cy="437.00" r="3.0" fill="#2b2b2b" stroke="#0e0e0e" stroke-width="0.8"/>
<circle cx="220.90" cy="435.30" r="3.0" fill="#2b2b2b" stroke="#0e0e0e" stroke-width="0.8"/>
<circle cx="230.10" cy="435.30" r="3.0" fill="#2b2b2b" stroke="#0e0e0e" stroke-width="0.8"/>
<circle cx="218.30" cy="444.30" r="3.0" fill="#2b2b2b" stroke="#0e0e0e" stroke-width="0.8"/>
<circle cx="221.50" cy="445.60" r="3.0" fill="#2b2b2b" stroke="#0e0e0e" stroke-width="0.8"/>
<circle cx="224.90" cy="444.30" r="3.0" fill="#2b2b2b" stroke="#0e0e0e" stroke-width="0.8"/>
<circle cx="211.10" cy="447.00" r="3.0" fill="#2b2b2b" stroke="#0e0e0e" stroke-width="0.8"/>
<circle cx="228.40" cy="454.30" r="3.0" fill="#2b2b2b" stroke="#0e0e0e" stroke-width="0.8"/>
<circle cx="242.20" cy="454.30" r="3.0" fill="#2b2b2b" stroke="#0e0e0e" stroke-width="0.8"/>
<circle cx="251.20" cy="456.40" r="3.0" fill="#2b2b2b" stroke="#0e0e0e" stroke-width="0.8"/>
<circle cx="209.00" cy="458.60" r="3.0" fill="#2b2b2b" stroke="#0e0e0e" stroke-width="0.8"/>
<circle cx="218.30" cy="459.80" r="3.0" fill="#2b2b2b" stroke="#0e0e0e" stroke-width="0.8"/>
<circle cx="228.00" cy="458.60" r="3.0" fill="#2b2b2b" stroke="#0e0e0e" stroke-width="0.8"/>
<circle cx="234.90" cy="461.20" r="3.0" fill="#2b2b2b" stroke="#0e0e0e" stroke-width="0.8"/>
<circle cx="237.00" cy="463.30" r="3.0" fill="#2b2b2b" stroke="#0e0e0e" stroke-width="0.8"/>
<circle cx="247.00" cy="462.90" r="3.0" fill="#2b2b2b" stroke="#0e0e0e" stroke-width="0.8"/>
<circle cx="254.30" cy="464.60" r="3.0" fill="#2b2b2b" stroke="#0e0e0e" stroke-width="0.8"/>
<circle cx="256.00" cy="468.10" r="3.0" fill="#2b2b2b" stroke="#0e0e0e" stroke-width="0.8"/>
<line x1="114.00" y1="376.80" x2="256.00" y2="467.00" stroke="#2a2a2a" stroke-width="1.6" />
<text x="350.40" y="284.80" font-size="16" text-anchor="start" font-weight="bold" fill="#1a1a1a" >D</text>
<line x1="415.50" y1="296.50" x2="415.50" y2="509.10" stroke="#2a2a2a" stroke-width="1.7" />
<line x1="410.50" y1="508.30" x2="675.00" y2="508.30" stroke="#2a2a2a" stroke-width="1.7" />
<line x1="410.50" y1="508.30" x2="415.50" y2="508.30" stroke="#2a2a2a" stroke-width="1.7" />
<text x="408.60" y="512.50" font-size="11.6" text-anchor="end" font-weight="bold" fill="#1a1a1a" >0</text>
<line x1="410.50" y1="466.10" x2="415.50" y2="466.10" stroke="#2a2a2a" stroke-width="1.7" />
<text x="408.60" y="470.30" font-size="11.6" text-anchor="end" font-weight="bold" fill="#1a1a1a" >2</text>
<line x1="410.50" y1="423.90" x2="415.50" y2="423.90" stroke="#2a2a2a" stroke-width="1.7" />
<text x="408.60" y="428.10" font-size="11.6" text-anchor="end" font-weight="bold" fill="#1a1a1a" >4</text>
<line x1="410.50" y1="381.70" x2="415.50" y2="381.70" stroke="#2a2a2a" stroke-width="1.7" />
<text x="408.60" y="385.90" font-size="11.6" text-anchor="end" font-weight="bold" fill="#1a1a1a" >6</text>
<line x1="410.50" y1="339.50" x2="415.50" y2="339.50" stroke="#2a2a2a" stroke-width="1.7" />
<text x="408.60" y="343.70" font-size="11.6" text-anchor="end" font-weight="bold" fill="#1a1a1a" >8</text>
<line x1="410.50" y1="297.30" x2="415.50" y2="297.30" stroke="#2a2a2a" stroke-width="1.7" />
<text x="408.60" y="301.50" font-size="11.6" text-anchor="end" font-weight="bold" fill="#1a1a1a" >10</text>
<line x1="458.60" y1="508.30" x2="458.60" y2="513.00" stroke="#2a2a2a" stroke-width="1.7" />
<line x1="545.10" y1="508.30" x2="545.10" y2="513.00" stroke="#2a2a2a" stroke-width="1.7" />
<line x1="631.50" y1="508.30" x2="631.50" y2="513.00" stroke="#2a2a2a" stroke-width="1.7" />
<text x="458.80" y="525.70" font-size="12.4" text-anchor="middle" font-weight="bold" fill="#1a1a1a" >Mild</text>
<text x="545.00" y="525.70" font-size="12.4" text-anchor="middle" font-weight="bold" fill="#1a1a1a" >Severe</text>
<text x="631.30" y="525.70" font-size="12.4" text-anchor="middle" font-weight="bold" fill="#1a1a1a" >Fatal</text>
<text x="544.90" y="547.50" font-size="13.9" text-anchor="middle" font-weight="bold" fill="#1a1a1a" >SFTS cases</text>
<text transform="translate(384.2,471.8) rotate(-90)" font-size="14.2" font-weight="bold" fill="#1a1a1a">Log<tspan font-size="10" dy="3.6">10</tspan><tspan dy="-3.6"> viral copies/ml</tspan></text>
<line x1="414.30" y1="458.00" x2="675.60" y2="458.00" stroke="#2a2a2a" stroke-width="2.0" stroke-dasharray="6.8,1.87"/>
<line x1="458.50" y1="371.30" x2="458.50" y2="372.80" stroke="#2a2a2a" stroke-width="1.9" />
<line x1="458.50" y1="399.70" x2="458.50" y2="407.60" stroke="#2a2a2a" stroke-width="1.9" />
<line x1="443.50" y1="371.30" x2="473.50" y2="371.30" stroke="#2a2a2a" stroke-width="2.1" />
<line x1="443.50" y1="407.60" x2="473.50" y2="407.60" stroke="#2a2a2a" stroke-width="2.1" />
<rect x="429.50" y="372.80" width="58" height="26.90" fill="none" stroke="#2a2a2a" stroke-width="2.2"/>
<line x1="429.50" y1="392.70" x2="487.50" y2="392.70" stroke="#2a2a2a" stroke-width="2.2" />
<line x1="545.10" y1="356.90" x2="545.10" y2="360.40" stroke="#2a2a2a" stroke-width="1.9" />
<line x1="545.10" y1="370.60" x2="545.10" y2="390.80" stroke="#2a2a2a" stroke-width="1.9" />
<line x1="530.10" y1="356.90" x2="560.10" y2="356.90" stroke="#2a2a2a" stroke-width="2.1" />
<line x1="530.10" y1="390.80" x2="560.10" y2="390.80" stroke="#2a2a2a" stroke-width="2.1" />
<rect x="516.10" y="360.40" width="58" height="10.20" fill="none" stroke="#2a2a2a" stroke-width="2.2"/>
<line x1="516.10" y1="365.50" x2="574.10" y2="365.50" stroke="#2a2a2a" stroke-width="2.2" />
<line x1="631.30" y1="333.50" x2="631.30" y2="336.70" stroke="#2a2a2a" stroke-width="1.9" />
<line x1="631.30" y1="351.30" x2="631.30" y2="375.90" stroke="#2a2a2a" stroke-width="1.9" />
<line x1="616.30" y1="333.50" x2="646.30" y2="333.50" stroke="#2a2a2a" stroke-width="2.1" />
<line x1="616.30" y1="375.90" x2="646.30" y2="375.90" stroke="#2a2a2a" stroke-width="2.1" />
<rect x="602.30" y="336.70" width="58" height="14.60" fill="none" stroke="#2a2a2a" stroke-width="2.2"/>
<line x1="602.30" y1="346.20" x2="660.30" y2="346.20" stroke="#2a2a2a" stroke-width="2.2" />
<path d="M460.90,311.90 V306.80 H634.00 V311.90" stroke="#2a2a2a" stroke-width="1.7" fill="none"/>
<path d="M545.80,329.40 V324.50 H634.00 V329.40" stroke="#2a2a2a" stroke-width="1.7" fill="none"/>
<path d="M459.90,348.80 V343.80 H545.50 V348.80" stroke="#2a2a2a" stroke-width="1.7" fill="none"/>
<path d="M538.40,298.10 L538.40,296.15 M538.40,298.10 L540.25,297.50 M538.40,298.10 L539.55,299.68 M538.40,298.10 L537.25,299.68 M538.40,298.10 L536.55,297.50 " stroke="#111" stroke-width="1.25" stroke-linecap="round" fill="none"/>
<path d="M544.60,298.10 L544.60,296.15 M544.60,298.10 L546.45,297.50 M544.60,298.10 L545.75,299.68 M544.60,298.10 L543.45,299.68 M544.60,298.10 L542.75,297.50 " stroke="#111" stroke-width="1.25" stroke-linecap="round" fill="none"/>
<path d="M550.80,298.10 L550.80,296.15 M550.80,298.10 L552.65,297.50 M550.80,298.10 L551.95,299.68 M550.80,298.10 L549.65,299.68 M550.80,298.10 L548.95,297.50 " stroke="#111" stroke-width="1.25" stroke-linecap="round" fill="none"/>
<path d="M586.80,316.20 L586.80,314.25 M586.80,316.20 L588.65,315.60 M586.80,316.20 L587.95,317.78 M586.80,316.20 L585.65,317.78 M586.80,316.20 L584.95,315.60 " stroke="#111" stroke-width="1.25" stroke-linecap="round" fill="none"/>
<path d="M592.40,316.20 L592.40,314.25 M592.40,316.20 L594.25,315.60 M592.40,316.20 L593.55,317.78 M592.40,316.20 L591.25,317.78 M592.40,316.20 L590.55,315.60 " stroke="#111" stroke-width="1.25" stroke-linecap="round" fill="none"/>
<path d="M502.65,335.70 L502.65,333.75 M502.65,335.70 L504.50,335.10 M502.65,335.70 L503.80,337.28 M502.65,335.70 L501.50,337.28 M502.65,335.70 L500.80,335.10 " stroke="#111" stroke-width="1.25" stroke-linecap="round" fill="none"/>
</svg>
</body></html>
